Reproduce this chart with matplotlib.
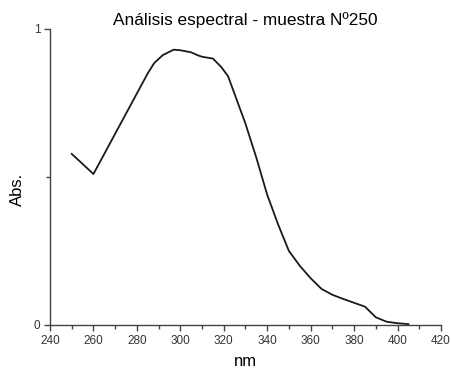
import matplotlib
matplotlib.use("Agg")
import matplotlib.pyplot as plt
from matplotlib.ticker import MultipleLocator

plt.rcParams["font.family"] = ["Liberation Sans", "DejaVu Sans"]

# spectrum
wavelength = [250, 260, 270, 280, 285, 288, 292, 297, 300, 305, 308, 310,
              315, 319, 322, 325, 330, 335, 340, 345, 350, 355, 360, 365, 370,
              375, 380, 385, 390, 395, 400, 405]
absorbance = [0.578, 0.51, 0.646, 0.782, 0.85, 0.885, 0.912, 0.93, 0.928,
              0.921, 0.911, 0.906, 0.9, 0.87, 0.84, 0.78, 0.68, 0.565, 0.44,
              0.34, 0.25, 0.2, 0.158, 0.122, 0.102, 0.088, 0.075, 0.062, 0.026,
              0.011, 0.006, 0.003]

fig = plt.figure(figsize=(4.52, 3.71), dpi=100)
ax = fig.add_axes([0.1106, 0.124, 0.865, 0.798])

ax.plot(wavelength, absorbance, color="#1a1a1a", linewidth=1.3)

ax.set_xlim(240, 420)
ax.set_ylim(0, 1)
ax.set_xticks(range(240, 421, 20))
ax.xaxis.set_minor_locator(MultipleLocator(10))
ax.set_yticks([0, 1])
ax.set_yticklabels(["0", "1"])
ax.yaxis.set_minor_locator(MultipleLocator(0.5))

ax.set_title("Análisis espectral - muestra Nº250", fontsize=12.4, pad=3)
ax.set_xlabel("nm", fontsize=12, labelpad=5.5)
ax.set_ylabel("Abs.", fontsize=12)
ax.yaxis.set_label_coords(-0.064, 0.458)

for side in ("top", "right"):
    ax.spines[side].set_visible(False)
for side in ("left", "bottom"):
    ax.spines[side].set_color("#444444")
    ax.spines[side].set_linewidth(1.0)

ax.tick_params(which="major", length=4, width=1, color="#444444",
               labelsize=8.5, labelcolor="#333333", pad=3)
ax.tick_params(which="minor", length=3, width=1, color="#444444")

fig.savefig("out.png", dpi=100)
